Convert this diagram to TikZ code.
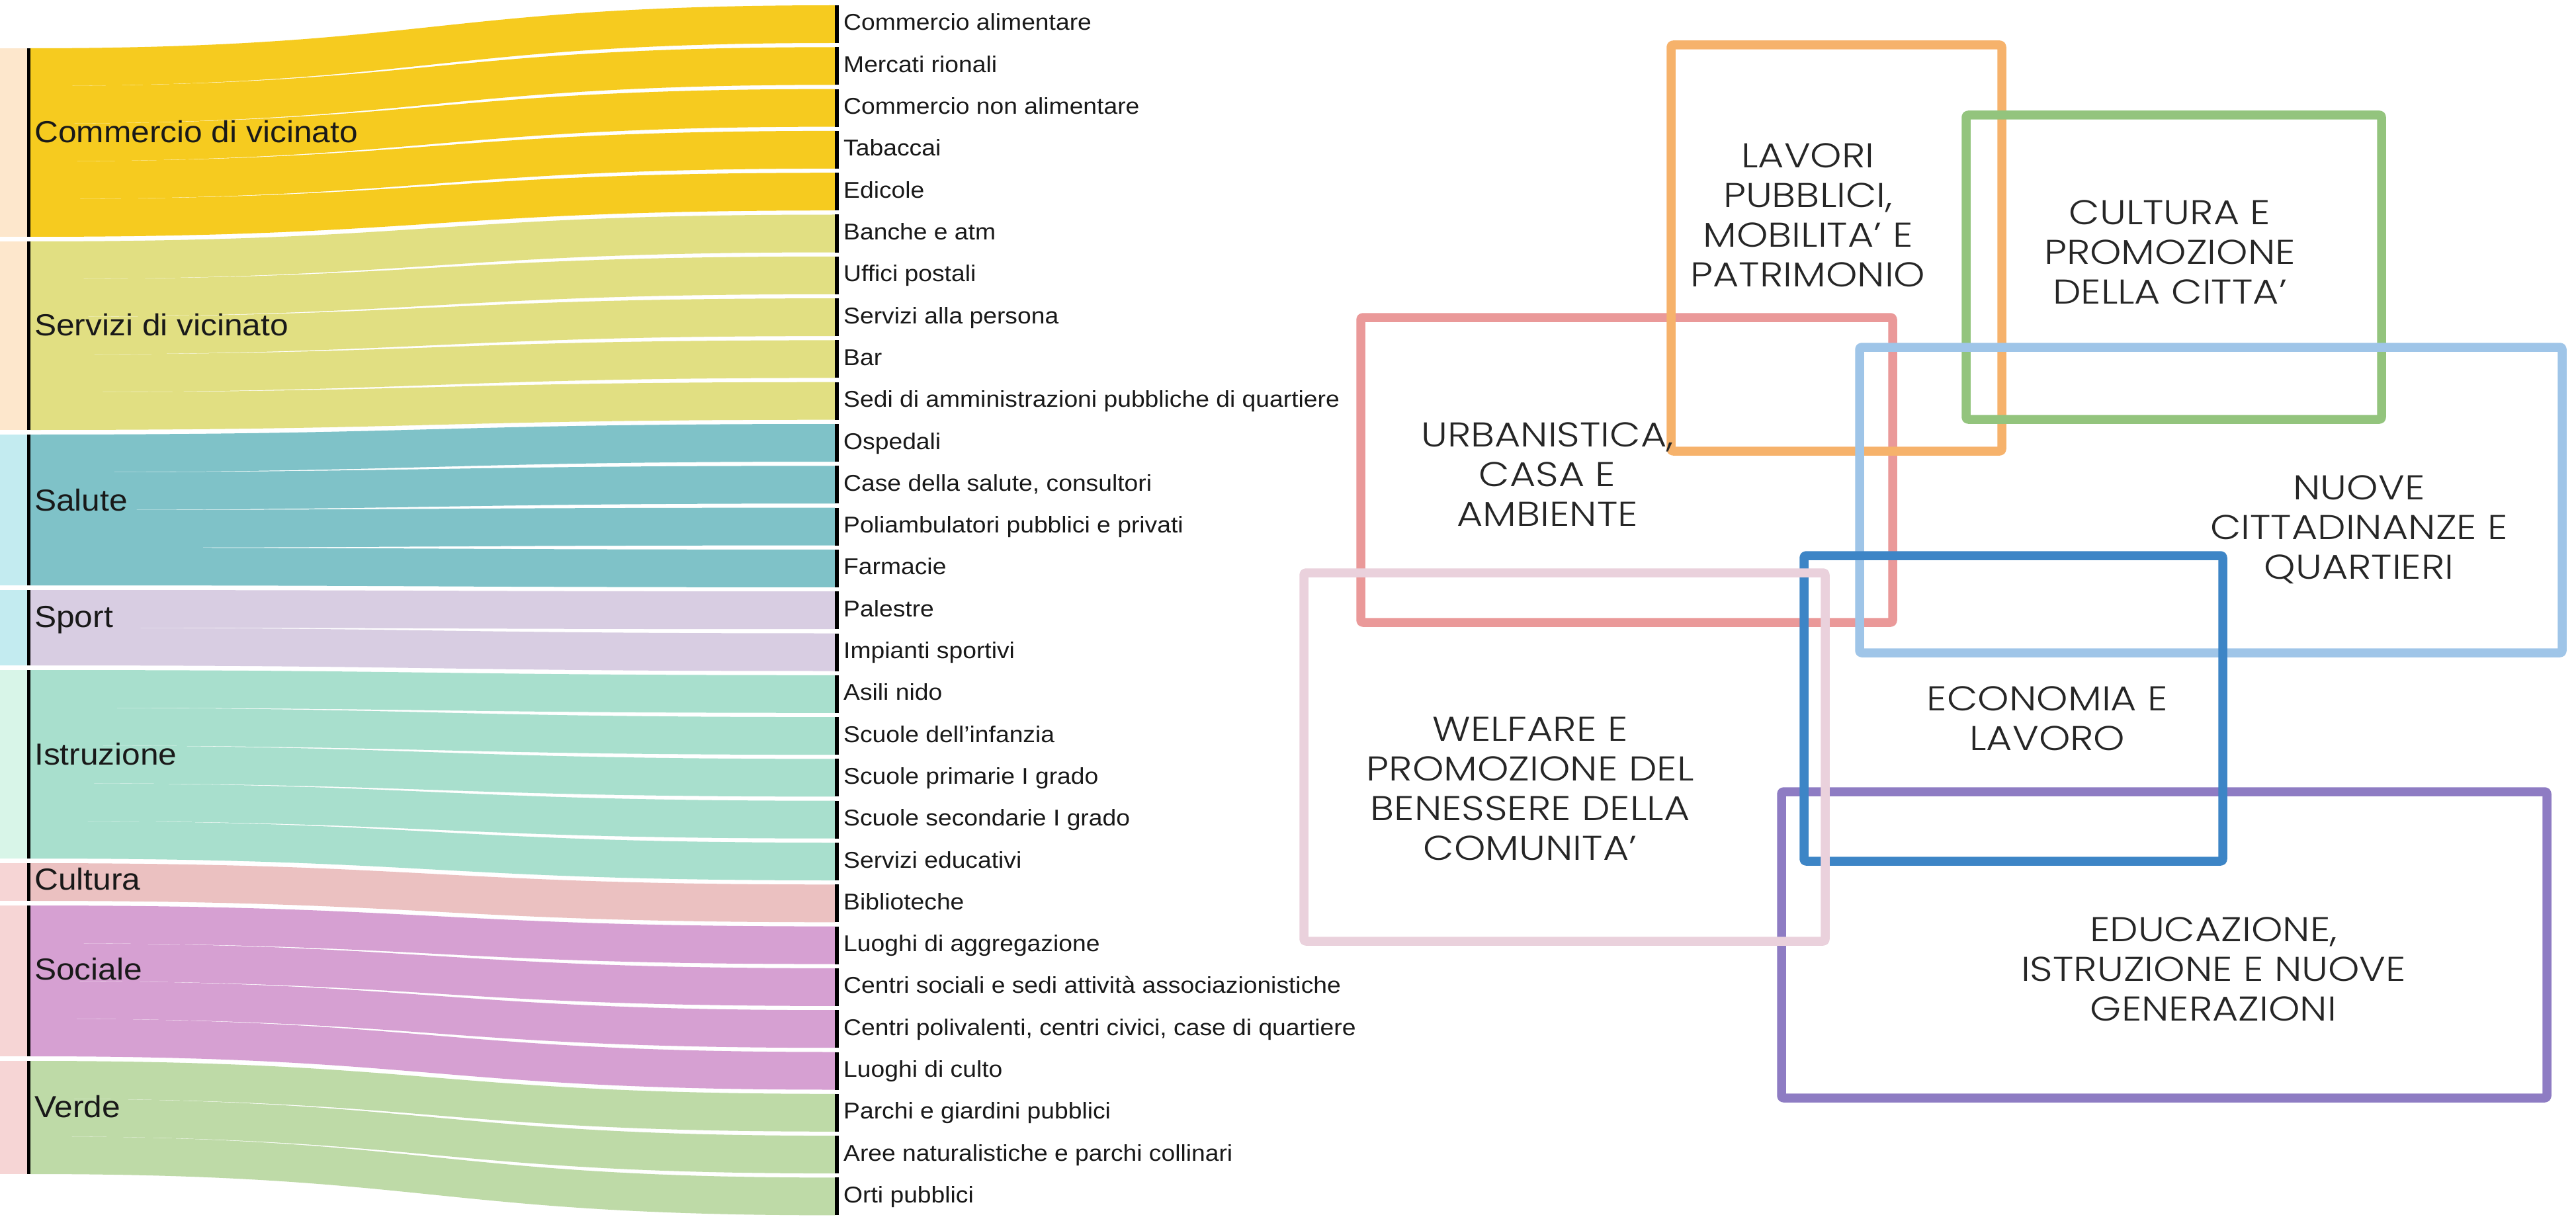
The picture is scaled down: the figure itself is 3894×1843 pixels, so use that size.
\documentclass[tikz,border=0pt]{standalone}
\usepackage{fontspec}
\setmainfont{Liberation Sans}[FakeStretch=1.08]
\newfontfamily\boxfont{Poppins Light}[FakeStretch=1.16]
\definecolor{cComm}{HTML}{F6CB1F}
\definecolor{cServ}{HTML}{E1DF82}
\definecolor{cSal}{HTML}{7FC2C8}
\definecolor{cSport}{HTML}{D8CDE2}
\definecolor{cIstr}{HTML}{A8DFCD}
\definecolor{cCult}{HTML}{EBC1C1}
\definecolor{cSoc}{HTML}{D6A0D2}
\definecolor{cVerde}{HTML}{BEDAA7}
\definecolor{sPeach}{HTML}{FDE7CC}
\definecolor{sCyan}{HTML}{C3EBF0}
\definecolor{sMint}{HTML}{D8F5E8}
\definecolor{sPink}{HTML}{F6D5D5}
\definecolor{bRed}{HTML}{EA9999}
\definecolor{bOrange}{HTML}{F6B26B}
\definecolor{bGreen}{HTML}{93C47D}
\definecolor{bLightBlue}{HTML}{9FC5E8}
\definecolor{bBlue}{HTML}{3D85C6}
\definecolor{bPink}{HTML}{EAD1DC}
\definecolor{bPurple}{HTML}{8E7CC3}
\tikzset{
  itemlabel/.style={anchor=base west, inner sep=0pt, font=\fontsize{34.5}{40}\selectfont, text=black!90},
  grouplabel/.style={anchor=base west, inner sep=0pt, font=\fontsize{46}{52}\selectfont, text=black!90},
  boxtext/.style={align=center, inner sep=0pt, font=\boxfont\fontsize{52}{60}\selectfont, text=black!85},
  areabox/.style={line width=13.5pt, line join=round, rounded corners=3pt}
}
\begin{document}
\begin{tikzpicture}[x=1pt,y=-1pt]
\useasboundingbox (0,0) rectangle (3894,1843);
\fill[white] (0,0) rectangle (3894,1843);
% ---------- sankey flows ----------
\foreach \g/\s/\n/\col/\strip in {0/0/5/cComm/sPeach, 1/5/5/cServ/sPeach, 2/10/4/cSal/sCyan, 3/14/2/cSport/sCyan, 4/16/5/cIstr/sMint, 5/21/1/cCult/sPink, 6/22/4/cSoc/sPink, 7/26/3/cVerde/sPink}{
  \pgfmathsetmacro\gt{73+\s*57+\g*7}
  \pgfmathsetmacro\gb{\gt+\n*57}
  \fill[\strip] (0,\gt) rectangle (41,\gb);
  \fill[black] (41,\gt) rectangle (46,\gb);
  \foreach \k in {1,...,\n}{
    \pgfmathsetmacro\i{\s+\k-1}
    \pgfmathsetmacro\yl{73+\i*57+\g*7}
    \pgfmathsetmacro\yr{8+\i*63.3}
    \fill[\col] (46,\yl) .. controls (654,\yl) and (654,\yr) .. (1262,\yr)
      -- (1262,\yr+57) .. controls (654,\yr+57) and (654,\yl+57) .. (46,\yl+57) -- cycle;
    \fill[black] (1262,\yr) rectangle (1268,\yr+57);
  }
}
% ---------- group labels ----------
\node[grouplabel] (gComm) at (52,216) {Commercio di vicinato};
\node[grouplabel] (gServ) at (52,507) {Servizi di vicinato};
\node[grouplabel] (gSal) at (52,772) {Salute};
\node[grouplabel] (gSport) at (52,948) {Sport};
\node[grouplabel] (gIstr) at (52,1156) {Istruzione};
\node[grouplabel] (gCult) at (52,1345) {Cultura};
\node[grouplabel] (gSoc) at (52,1481) {Sociale};
\node[grouplabel] (gVerde) at (52,1689) {Verde};
% ---------- item labels ----------
\foreach \i/\t in {0/Commercio alimentare, 1/Mercati rionali, 2/Commercio non alimentare, 3/Tabaccai, 4/Edicole,
  5/Banche e atm, 6/Uffici postali, 7/Servizi alla persona, 8/Bar, 9/Sedi di amministrazioni pubbliche di quartiere,
  10/Ospedali, 11/{Case della salute, consultori}, 12/Poliambulatori pubblici e privati, 13/Farmacie,
  14/Palestre, 15/Impianti sportivi,
  16/Asili nido, 17/Scuole dell’infanzia, 18/Scuole primarie I grado, 19/Scuole secondarie I grado, 20/Servizi educativi,
  21/Biblioteche,
  22/Luoghi di aggregazione, 23/Centri sociali e sedi attività associazionistiche, 24/{Centri polivalenti, centri civici, case di quartiere}, 25/Luoghi di culto,
  26/Parchi e giardini pubblici, 27/Aree naturalistiche e parchi collinari, 28/Orti pubblici}{
  \pgfmathsetmacro\yb{8+\i*63.3+38}
  \node[itemlabel] (r\i) at (1275,\yb) {\t};
}
% ---------- area boxes ----------
\draw[areabox, bRed] (2057,480) rectangle (2861,941);
\draw[areabox, bOrange] (2526,68) rectangle (3026,682);
\draw[areabox, bGreen] (2972,174) rectangle (3600,634);
\draw[areabox, bLightBlue] (2811,525) rectangle (3873,987);
\draw[areabox, bPurple] (2693,1197) rectangle (3850,1660);
\draw[areabox, bBlue] (2727,840) rectangle (3360,1302);
\draw[areabox, bPink] (1971,866) rectangle (2759,1423);
% ---------- box texts ----------
\node[boxtext] (tLav) at (2733,325) {LAVORI\\PUBBLICI,\\MOBILITA’ E\\PATRIMONIO};
\node[boxtext] (tCult) at (3280,381) {CULTURA E\\PROMOZIONE\\DELLA CITTA’};
\node[boxtext] (tUrb) at (2339,717) {URBANISTICA,\\CASA E\\AMBIENTE};
\node[boxtext] (tNuove) at (3566,801) {NUOVE\\CITTADINANZE E\\QUARTIERI};
\node[boxtext] (tEcon) at (3095,1086) {ECONOMIA E\\LAVORO};
\node[boxtext] (tWelf) at (2313,1192) {WELFARE E\\PROMOZIONE DEL\\BENESSERE DELLA\\COMUNITA’};
\node[boxtext] (tEduc) at (3346,1465) {EDUCAZIONE,\\ISTRUZIONE E NUOVE\\GENERAZIONI};
\end{tikzpicture}
\end{document}
